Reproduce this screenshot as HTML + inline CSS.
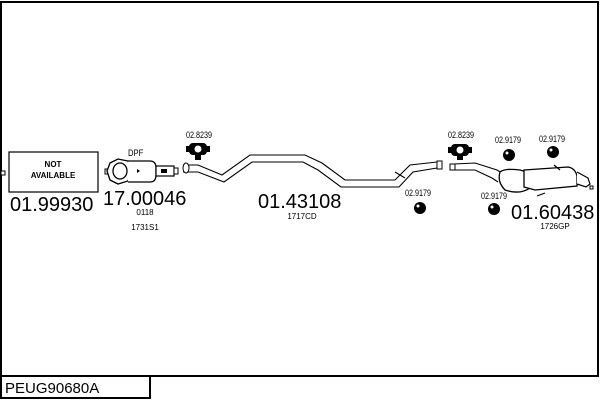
<!DOCTYPE html>
<html><head><style>
html,body{margin:0;padding:0;width:600px;height:400px;background:#fff;overflow:hidden}
svg{position:absolute;left:0;top:0}
</style></head><body>
<svg width="600" height="400" viewBox="0 0 600 400" font-family="Liberation Sans, sans-serif">
<path d="M1,90 L1,2 L598,2 L598,376 L1,376 L1,90" fill="none" stroke="#000" stroke-width="2"/>
<rect x="1" y="376" width="149" height="22" fill="#fff" stroke="#000" stroke-width="2"/>
<text x="5" y="393" font-size="15">PEUG90680A</text>

<rect x="9" y="152" width="89" height="40" fill="#fff" stroke="#000" stroke-width="1.2"/>
<rect x="1" y="171" width="4" height="4" fill="#fff" stroke="#000"/>
<text x="53" y="167" font-size="8" font-weight="bold" text-anchor="middle">NOT</text>
<text x="53" y="178" font-size="8" font-weight="bold" text-anchor="middle">AVAILABLE</text>
<text x="10" y="211" font-size="20">01.99930</text>

<text x="128" y="156" font-size="9" transform="scale(0.85,1)" transform-origin="128 156">DPF</text>
<rect x="105" y="169" width="4" height="5" fill="#fff" stroke="#000"/>
<path d="M110,163 L118,159 L128,161 L132,170 L128,181 L118,184 L110,180 L107,171Z" fill="#fff" stroke="#000" stroke-width="1.3"/>
<ellipse cx="120" cy="171" rx="7" ry="8" fill="#fff" stroke="#000" stroke-width="1.3"/>
<path d="M128,161 L150,161 Q156,161 156,168 L156,175 Q156,182 150,182 L128,182" fill="#fff" stroke="#000" stroke-width="1.3"/>
<path d="M137,169 l3,2 l-3,2z" fill="#000"/>
<rect x="156" y="166" width="18" height="10" fill="#fff" stroke="#000" stroke-width="1.2"/>
<rect x="161" y="169" width="6" height="4" fill="#000"/>
<rect x="174" y="168" width="4" height="6" fill="#fff" stroke="#000"/>
<text x="103" y="205" font-size="20">17.00046</text>
<text x="145" y="215" font-size="8" text-anchor="middle">0118</text>
<text x="145" y="230" font-size="8" text-anchor="middle">1731S1</text>

<text x="199" y="138" font-size="9" text-anchor="middle" transform="scale(0.8,1)" transform-origin="199 138">02.8239</text>
<rect x="189" y="143" width="18" height="12" rx="4" fill="#000"/>
<rect x="186" y="146" width="24" height="6" fill="#000"/>
<circle cx="198" cy="149" r="3.5" fill="#fff"/>
<rect x="195" y="155" width="6" height="5" fill="#000"/>

<g fill="none" stroke="#000" stroke-width="1.1">
<path d="M183,165 L198,165 L222,175 L250,155 L305,155 L322,163 L345,180 L395,180 L410,165 L437,162"/>
<path d="M183,172 L198,172 L224,182 L252,162 L303,162 L318,170 L341,187 L399,187 L413,172 L437,168"/>
<path d="M395,172 L405,178" />
</g>
<ellipse cx="186" cy="168" rx="3" ry="5" fill="#fff" stroke="#000"/>
<rect x="437" y="161" width="5" height="8" fill="#fff" stroke="#000"/>
<text x="258" y="208" font-size="20">01.43108</text>
<text x="302" y="219" font-size="8" text-anchor="middle">1717CD</text>

<text x="418" y="196" font-size="9" text-anchor="middle" transform="scale(0.8,1)" transform-origin="418 196">02.9179</text>
<circle cx="420" cy="208" r="6" fill="#000"/><circle cx="418" cy="206" r="1.5" fill="#fff"/>

<text x="461" y="138" font-size="9" text-anchor="middle" transform="scale(0.8,1)" transform-origin="461 138">02.8239</text>
<rect x="451" y="144" width="18" height="12" rx="4" fill="#000"/>
<rect x="448" y="147" width="24" height="6" fill="#000"/>
<circle cx="460" cy="150" r="3.5" fill="#fff"/>
<rect x="457" y="156" width="6" height="4" fill="#000"/>

<g fill="none" stroke="#000" stroke-width="1.1">
<path d="M454,164 L475,163 L497,170 L505,175"/>
<path d="M454,170 L475,170 L492,178 L498,182"/>
</g>
<rect x="450" y="164" width="5" height="6" fill="#fff" stroke="#000"/>
<path d="M500,172 Q505,168 520,170 L530,173 L530,188 Q520,195 505,190 Q497,182 500,172Z" fill="#fff" stroke="#000" stroke-width="1.3"/>
<path d="M524,170 L568,167 Q575,168 577,176 L577,186 L535,190 L524,187Z" fill="#fff" stroke="#000" stroke-width="1.3"/>
<path d="M577,172 L588,178 L590,184 L586,187 L577,184" fill="#fff" stroke="#000" stroke-width="1.2"/>
<rect x="590" y="186" width="3" height="3" fill="#fff" stroke="#000"/>
<path d="M537,196 L545,193 M554,165 L560,170" stroke="#000" stroke-width="1.2"/>
<text x="508" y="143" font-size="9" text-anchor="middle" transform="scale(0.8,1)" transform-origin="508 143">02.9179</text>
<circle cx="509" cy="155" r="6" fill="#000"/><circle cx="507" cy="153" r="1.5" fill="#fff"/>
<text x="552" y="142" font-size="9" text-anchor="middle" transform="scale(0.8,1)" transform-origin="552 142">02.9179</text>
<circle cx="553" cy="152" r="6" fill="#000"/><circle cx="551" cy="150" r="1.5" fill="#fff"/>
<text x="494" y="199" font-size="9" text-anchor="middle" transform="scale(0.8,1)" transform-origin="494 199">02.9179</text>
<circle cx="494" cy="209" r="6" fill="#000"/><circle cx="492" cy="207" r="1.5" fill="#fff"/>
<text x="511" y="219" font-size="20">01.60438</text>
<text x="555" y="229" font-size="8" text-anchor="middle">1726GP</text>
</svg>
</body></html>
